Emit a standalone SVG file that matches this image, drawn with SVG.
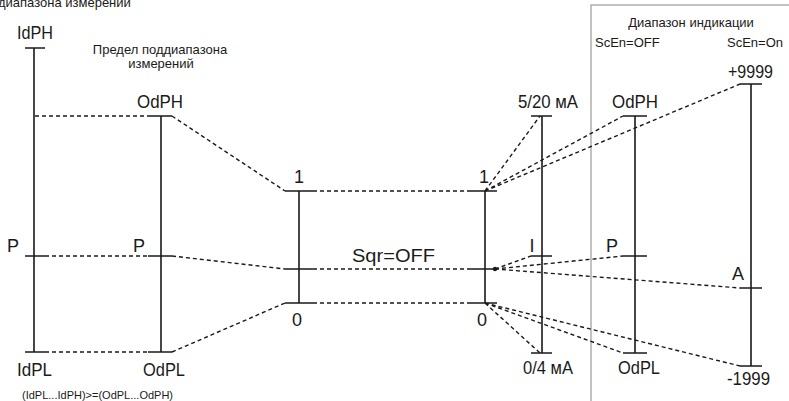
<svg xmlns="http://www.w3.org/2000/svg" width="789" height="401" viewBox="0 0 789 401">
<style>
text{font-family:"Liberation Sans",Arial,sans-serif;fill:#1a1a1a}
.lb{font-size:18px}
.sm{font-size:13px}
.ax{stroke:#1a1a1a;stroke-width:1.6;fill:none}
.ds{stroke:#1a1a1a;stroke-width:1.4;stroke-dasharray:4 3;fill:none}
.mid{text-anchor:middle}
</style>
<rect width="789" height="401" fill="#fff"/>
<rect x="591" y="5" width="210" height="410" fill="none" stroke="#9a9a9a" stroke-width="1.2"/>
<text x="-2" y="7" class="sm">диапазона измерений</text>
<text x="160" y="54" class="sm mid">Предел поддиапазона</text>
<text x="161" y="68" class="sm mid">измерений</text>
<text x="691" y="27" class="sm mid">Диапазон индикации</text>
<text x="595" y="47" class="sm">ScEn=OFF</text>
<text x="727" y="47" class="sm">ScEn=On</text>
<text x="22" y="399" style="font-size:11px">(IdPL...IdPH)&gt;=(OdPL...OdPH)</text>
<text x="352" y="262" style="font-size:19px" textLength="83" lengthAdjust="spacingAndGlyphs">Sqr=OFF</text>
<g id="connectors">
<path class="ds" d="M35 116H148M45 256H148M45 352H148"/>
<path class="ds" d="M172 116L285 191M172 256L285 269M172 352L285 303"/>
<path class="ds" d="M313 191H470M313 269H470M313 303H470"/>
<path class="ds" d="M485 191L540 116M485 191L623 116M485 191L740 84"/>
<path class="ds" d="M495 269L531 256M495 269L623 256M495 269L740 288"/>
<path class="ds" d="M485 303L540 353M485 303L623 353M485 303L740 366"/>
</g>
<g id="n-idp">
<path class="ax" d="M34 48V352M25 48H45M25 256H45M25 352H45"/>
<text x="17" y="39" class="lb" textLength="36" lengthAdjust="spacingAndGlyphs">IdPH</text>
<text x="7" y="252" class="lb">P</text>
<text x="17" y="376" class="lb" textLength="35" lengthAdjust="spacingAndGlyphs">IdPL</text>
</g>
<g id="n-odp">
<path class="ax" d="M161 116V352M148 116H172M148 256H172M148 352H172"/>
<text x="137" y="108" class="lb" textLength="46" lengthAdjust="spacingAndGlyphs">OdPH</text>
<text x="133" y="252" class="lb">P</text>
<text x="143" y="376" class="lb" textLength="42" lengthAdjust="spacingAndGlyphs">OdPL</text>
</g>
<g id="n-norm-in">
<path class="ax" d="M299 191V303M285 191H313M285 269H313M285 303H313"/>
<text x="299" y="183" class="lb mid">1</text>
<text x="297" y="326" class="lb mid">0</text>
</g>
<g id="n-norm-out">
<path class="ax" d="M485 191V303M470 191H497M470 269H495M470 303H497"/>
<circle cx="495" cy="269" r="2.2" fill="#1a1a1a"/>
<text x="484" y="183" class="lb mid">1</text>
<text x="482" y="326" class="lb mid">0</text>
</g>
<g id="n-ma">
<path class="ax" d="M542 116V353M531 116H552M531 256H552M531 353H552"/>
<text x="518" y="108" class="lb" textLength="60" lengthAdjust="spacingAndGlyphs">5/20 мА</text>
<text x="532" y="252" class="lb mid">I</text>
<text x="523" y="374" class="lb" textLength="50" lengthAdjust="spacingAndGlyphs">0/4 мА</text>
</g>
<g id="n-scen-off">
<path class="ax" d="M635 116V353M623 116H647M623 256H647M623 353H647"/>
<text x="612" y="108" class="lb" textLength="46" lengthAdjust="spacingAndGlyphs">OdPH</text>
<text x="612" y="252" class="lb mid">P</text>
<text x="618" y="374" class="lb" textLength="42" lengthAdjust="spacingAndGlyphs">OdPL</text>
</g>
<g id="n-scen-on">
<path class="ax" d="M751 84V366M740 84H762M740 288H762M740 366H762"/>
<text x="728" y="78" class="lb" textLength="45" lengthAdjust="spacingAndGlyphs">+9999</text>
<text x="738" y="280" class="lb mid">A</text>
<text x="727" y="385" class="lb" textLength="43" lengthAdjust="spacingAndGlyphs">-1999</text>
</g>
</svg>
